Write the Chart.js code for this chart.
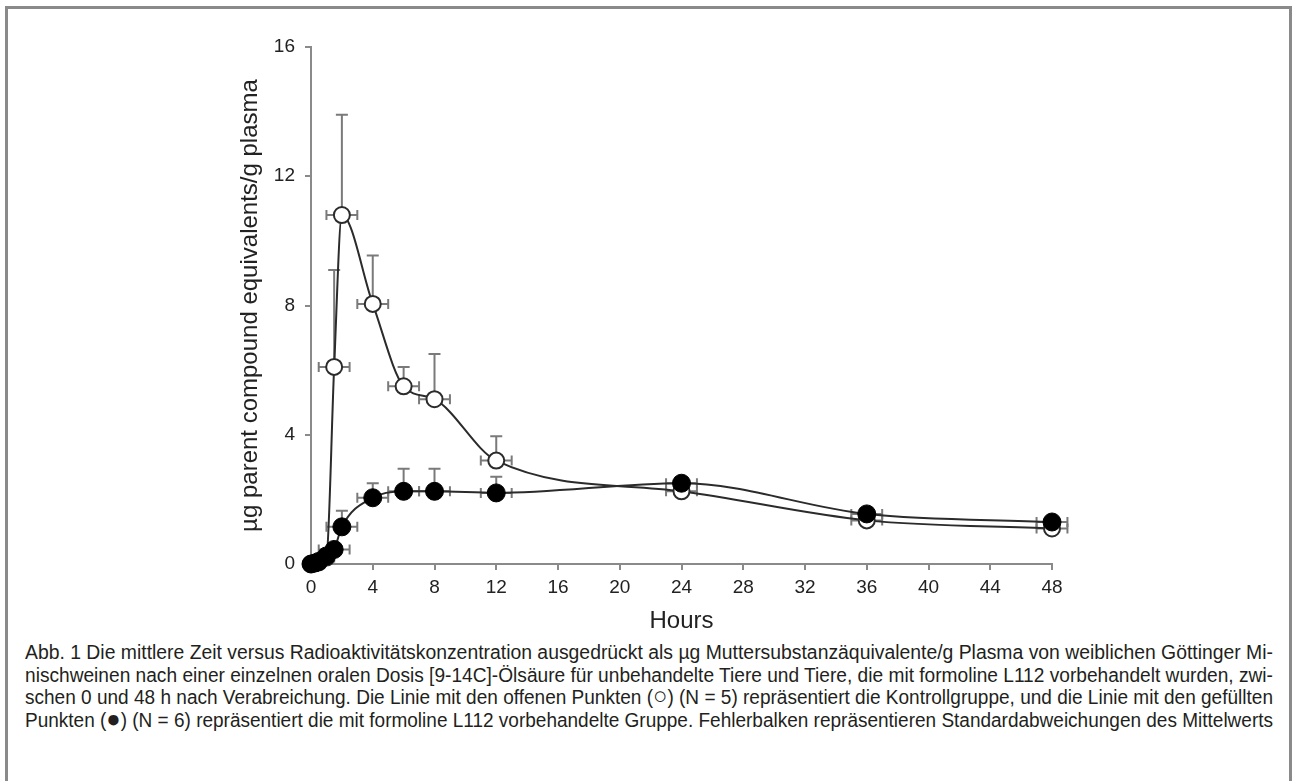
<!DOCTYPE html>
<html>
<head>
<meta charset="utf-8">
<script src="https://cdn.jsdelivr.net/npm/chart.js@4/dist/chart.umd.min.js"></script>
<style>
    html, body { margin: 0; padding: 0; background: #ffffff; overflow: hidden; }
    body { width: 1299px; height: 781px; position: relative; }
    #frame {
        position: absolute; left: 5px; top: 6px; width: 1281px; height: 800px;
        border: 3px solid #8a8a8a; border-bottom: none;
    }
    #chartBox { position: absolute; left: 0; top: 0; width: 1299px; height: 640px; }
    #caption {
        position: absolute; left: 25px; top: 641px; width: 1248px;
        font-family: "Liberation Sans", Arial, sans-serif;
        font-size: 19.5px; line-height: 22.6px; color: #231f20;
    }
    .capline { white-space: nowrap; transform-origin: 0 0; height: 22.6px; }
    .capline > span { display: inline-block; }
    .sym { font-size: 125%; line-height: 10px; }
</style>
</head>
<body>
<div id="frame"></div>
<div id="chartBox"><canvas id="chart" width="1299" height="640"></canvas></div>
<div id="caption">
    <div class="capline"><span>Abb. 1 Die mittlere Zeit versus Radioaktivitätskonzentration ausgedrückt als µg Muttersubstanzäquivalente/g Plasma von weiblichen Göttinger Mi-</span></div>
    <div class="capline"><span>nischweinen nach einer einzelnen oralen Dosis [9-14C]-Ölsäure für unbehandelte Tiere und Tiere, die mit formoline L112 vorbehandelt wurden, zwi-</span></div>
    <div class="capline"><span>schen 0 und 48 h nach Verabreichung. Die Linie mit den offenen Punkten (<span class="sym">○</span>) (N = 5) repräsentiert die Kontrollgruppe, und die Linie mit den gefüllten</span></div>
    <div class="capline"><span>Punkten (<span class="sym">●</span>) (N = 6) repräsentiert die mit formoline L112 vorbehandelte Gruppe. Fehlerbalken repräsentieren Standardabweichungen des Mittelwerts</span></div>
</div>
<script>
// --- DATA ---
const hours = [0, 0.25, 0.5, 1, 1.5, 2, 4, 6, 8, 12, 24, 36, 48];

// open circles: control group (N = 5)
const controlMean = [0, 0.02, 0.05, 0.2, 6.1, 10.8, 8.05, 5.5, 5.1, 3.2, 2.25, 1.35, 1.1];
const controlSD   = [0, 0, 0, 0, 3.0, 3.1, 1.5, 0.6, 1.4, 0.75, 0.2, 0.15, 0.1];

// filled circles: formoline L112 pretreated (N = 6)
const treatedMean = [0, 0.03, 0.08, 0.25, 0.45, 1.15, 2.05, 2.25, 2.25, 2.2, 2.5, 1.55, 1.3];
const treatedSD   = [0, 0, 0, 0.1, 0.15, 0.5, 0.45, 0.7, 0.7, 0.5, 0.15, 0.1, 0.1];

// horizontal bars (sampling time spread, h)
const timeSD = [0, 0, 0, 0.5, 1, 1, 1, 1, 1, 1, 1, 1, 1];

const yTicks = [0, 4, 8, 12, 16];
const xTicks = [0, 4, 8, 12, 16, 20, 24, 28, 32, 36, 40, 44, 48];

const AXIS_GREY = '#8a8a8a';
const LINE_COL = '#2b2b2b';
const BAR_COL = '#7a7a7a';

function toPoints(means, sds) {
    return hours.map((h, i) => ({ x: h, y: means[i], sd: sds[i], xsd: timeSD[i] }));
}

// --- ERROR BAR PLUGIN ---
const errorBars = {
    id: 'errorBars',
    beforeDatasetsDraw(chart) {
        const ctx = chart.ctx;
        const xs = chart.scales.x;
        const ys = chart.scales.y;
        ctx.save();
        ctx.strokeStyle = BAR_COL;
        ctx.lineWidth = 2;
        chart.data.datasets.forEach(ds => {
            ds.data.forEach(p => {
                const px = xs.getPixelForValue(p.x);
                const py = ys.getPixelForValue(p.y);
                ctx.beginPath();
                if (p.sd > 0) {
                    const top = ys.getPixelForValue(p.y + p.sd);
                    ctx.moveTo(px, py); ctx.lineTo(px, top);
                    ctx.moveTo(px - 6, top); ctx.lineTo(px + 6, top);
                }
                if (p.xsd > 0) {
                    const l = xs.getPixelForValue(p.x - p.xsd);
                    const r = xs.getPixelForValue(p.x + p.xsd);
                    ctx.moveTo(l, py); ctx.lineTo(r, py);
                    ctx.moveTo(l, py - 5); ctx.lineTo(l, py + 5);
                    ctx.moveTo(r, py - 5); ctx.lineTo(r, py + 5);
                }
                ctx.stroke();
            });
        });
        ctx.restore();
    }
};

Chart.defaults.font.family = '"Liberation Sans", Arial, sans-serif';
Chart.defaults.color = '#222222';

new Chart(document.getElementById('chart').getContext('2d'), {
    type: 'scatter',
    data: {
        datasets: [
            {
                label: 'formoline L112 (N = 6)',
                data: toPoints(treatedMean, treatedSD),
                showLine: true,
                cubicInterpolationMode: 'monotone',
                borderColor: LINE_COL,
                borderWidth: 2,
                pointRadius: 9,
                pointBorderWidth: 1,
                pointBackgroundColor: '#000000',
                pointBorderColor: '#000000',
                clip: false
            },
            {
                label: 'Kontrolle (N = 5)',
                data: toPoints(controlMean, controlSD),
                showLine: true,
                cubicInterpolationMode: 'monotone',
                borderColor: LINE_COL,
                borderWidth: 2,
                pointRadius: 8,
                pointBorderWidth: 2,
                pointBackgroundColor: '#ffffff',
                pointBorderColor: LINE_COL,
                clip: false
            }
        ]
    },
    options: {
        responsive: false,
        animation: false,
        layout: { padding: { left: 0, top: 47, right: 247, bottom: 0 } },
        plugins: { legend: { display: false }, tooltip: { enabled: false } },
        scales: {
            x: {
                type: 'linear', min: 0, max: 48,
                afterBuildTicks: s => { s.ticks = xTicks.map(v => ({ value: v })); },
                afterFit: s => { s.height = 76; },
                ticks: { font: { size: 19 }, padding: 6, maxRotation: 0 },
                grid: { drawOnChartArea: false, tickLength: 6, color: AXIS_GREY, lineWidth: 2 },
                border: { color: AXIS_GREY, width: 2 },
                title: { display: true, text: 'Hours', font: { size: 24 }, color: '#222222', padding: { top: 0, bottom: 4 } }
            },
            y: {
                min: 0, max: 16,
                afterBuildTicks: s => { s.ticks = yTicks.map(v => ({ value: v })); },
                afterFit: s => { s.width = 311; },
                ticks: { font: { size: 19 }, padding: 10 },
                grid: { drawOnChartArea: false, tickLength: 6, color: AXIS_GREY, lineWidth: 2 },
                border: { color: AXIS_GREY, width: 2 },
                title: { display: true, text: 'µg parent compound equivalents/g plasma', font: { size: 24 }, color: '#222222', padding: { top: 236, bottom: 0 } }
            }
        }
    },
    plugins: [errorBars]
});

// --- squeeze each caption line to the full text width (condensed look) ---
const CAPTION_W = 1248;
document.querySelectorAll('.capline').forEach(div => {
    const w = div.firstElementChild.getBoundingClientRect().width;
    div.style.transform = 'scaleX(' + (CAPTION_W / w) + ')';
});
</script>
</body>
</html>
